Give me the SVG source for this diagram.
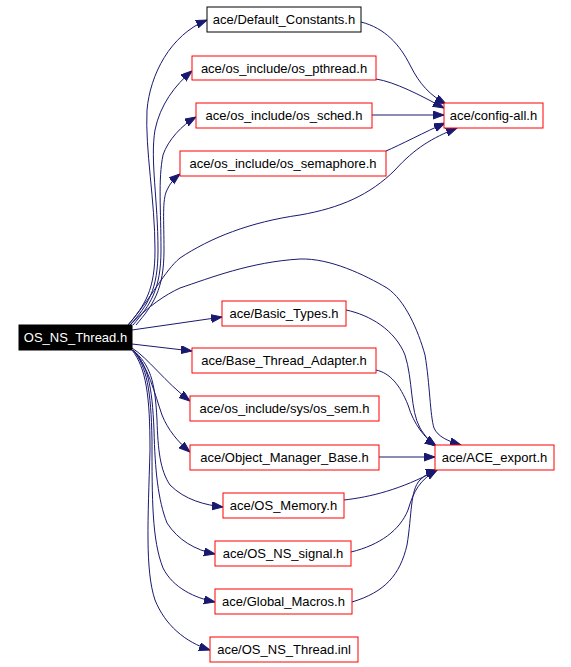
<svg xmlns="http://www.w3.org/2000/svg" width="571" height="667" viewBox="0 0 571 667">
<style>
.n rect{fill:#ffffff;stroke:#ff0000;stroke-width:1}
.n.b rect{stroke:#000000}
.n.root rect{fill:#000000;stroke:#000000}
.n text{font-family:"Liberation Sans",Arial,sans-serif;font-size:13px;fill:#000000;text-anchor:middle}
.n.root text{fill:#ffffff}
.e path{fill:none;stroke:#191970;stroke-width:1;marker-end:url(#arr)}
</style>
<defs>
<marker id="arr" markerUnits="userSpaceOnUse" markerWidth="12" markerHeight="9" refX="11" refY="4" orient="auto">
<path d="M0,0 L11,4 L0,8 z" fill="#191970" stroke="#191970"/>
</marker>
</defs>
<rect width="571" height="667" fill="#ffffff"/>
<g id="edges" class="e">
<path d="M128,325 C145,305 155,290 155,250 C155,200 145,150 147,110 C150,75 170,35 207,20"/>
<path d="M130,325 C148,305 158,290 158,250 C158,200 150,160 155,130 C160,105 175,85 192,71"/>
<path d="M133,325 C150,305 161,290 161,250 C161,210 158,180 163,155 C168,140 182,125 196,117"/>
<path d="M136,325 C153,305 164,290 164,250 C164,220 162,200 167,190 C170,183 175,178 180,174"/>
<path d="M128,325 C150,300 165,270 180,258 C210,238 250,222 300,215 C340,208 370,195 395,170 C415,148 432,138 457,128"/>
<path d="M130,325 C150,305 165,295 180,288 C210,278 250,262 300,259 C330,258 365,275 387,288 C405,300 418,330 425,355 C430,385 430,415 434,428 C438,437 448,441 461,445"/>
<path d="M132,330 L222,317"/>
<path d="M132,344 L192,351"/>
<path d="M132,348 C148,358 165,382 190,401"/>
<path d="M133,350 C148,365 155,395 162,415 C168,430 178,442 190,452"/>
<path d="M133,350 C150,365 155,380 157,420 C158,450 160,470 170,485 C185,500 205,505 223,507"/>
<path d="M133,350 C148,366 152,385 154,430 C155,470 158,500 167,523 C178,540 195,550 215,554"/>
<path d="M133,350 C147,367 151,390 152,440 C152,500 152,540 163,568 C173,588 195,598 215,602"/>
<path d="M132,350 C146,368 150,395 150,450 C148,520 145,570 155,600 C165,625 185,642 210,650"/>
<path d="M361,22 C385,28 400,45 410,65 C420,85 430,95 446,104"/>
<path d="M376,79 C395,82 420,95 444,108"/>
<path d="M372,115 L444,115"/>
<path d="M386,151 C400,145 425,132 445,123"/>
<path d="M346,310 C370,315 395,330 405,355 C413,380 410,410 420,428 C425,436 430,442 436,446"/>
<path d="M376,370 C390,373 400,385 408,405 C414,425 425,438 436,446"/>
<path d="M379,457 L435,457"/>
<path d="M344,500 C370,497 400,490 437,470"/>
<path d="M351,552 C380,545 400,530 408,510 C414,490 420,480 437,470"/>
<path d="M352,602 C385,592 400,575 407,545 C412,515 410,490 420,480 C425,475 430,472 437,470"/>
</g>
<g id="n_root" class="n root"><rect x="19" y="325" width="113" height="25"/><text x="75.5" y="342">OS_NS_Thread.h</text></g>
<g id="n_default" class="n b"><rect x="207" y="7" width="154" height="25"/><text x="284" y="24">ace/Default_Constants.h</text></g>
<g id="n_pthread" class="n"><rect x="192" y="56" width="184" height="24"/><text x="284" y="73">ace/os_include/os_pthread.h</text></g>
<g id="n_sched" class="n"><rect x="196" y="103" width="176" height="25"/><text x="284" y="120">ace/os_include/os_sched.h</text></g>
<g id="n_semaphore" class="n"><rect x="180" y="151" width="206" height="25"/><text x="283" y="168">ace/os_include/os_semaphore.h</text></g>
<g id="n_config" class="n"><rect x="444" y="103" width="99" height="25"/><text x="493.5" y="120">ace/config-all.h</text></g>
<g id="n_basic" class="n"><rect x="222" y="301" width="124" height="25"/><text x="284" y="318">ace/Basic_Types.h</text></g>
<g id="n_bta" class="n"><rect x="192" y="348" width="184" height="25"/><text x="284" y="365">ace/Base_Thread_Adapter.h</text></g>
<g id="n_ossem" class="n"><rect x="190" y="396" width="189" height="25"/><text x="284.5" y="413">ace/os_include/sys/os_sem.h</text></g>
<g id="n_omb" class="n"><rect x="190" y="445" width="189" height="25"/><text x="284.5" y="462">ace/Object_Manager_Base.h</text></g>
<g id="n_export" class="n"><rect x="435" y="445" width="119" height="25"/><text x="494.5" y="462">ace/ACE_export.h</text></g>
<g id="n_memory" class="n"><rect x="223" y="493" width="121" height="25"/><text x="283.5" y="510">ace/OS_Memory.h</text></g>
<g id="n_signal" class="n"><rect x="215" y="541" width="136" height="25"/><text x="283" y="558">ace/OS_NS_signal.h</text></g>
<g id="n_macros" class="n"><rect x="215" y="589" width="137" height="25"/><text x="283.5" y="606">ace/Global_Macros.h</text></g>
<g id="n_inl" class="n"><rect x="210" y="637" width="148" height="25"/><text x="284" y="654">ace/OS_NS_Thread.inl</text></g>
</svg>
